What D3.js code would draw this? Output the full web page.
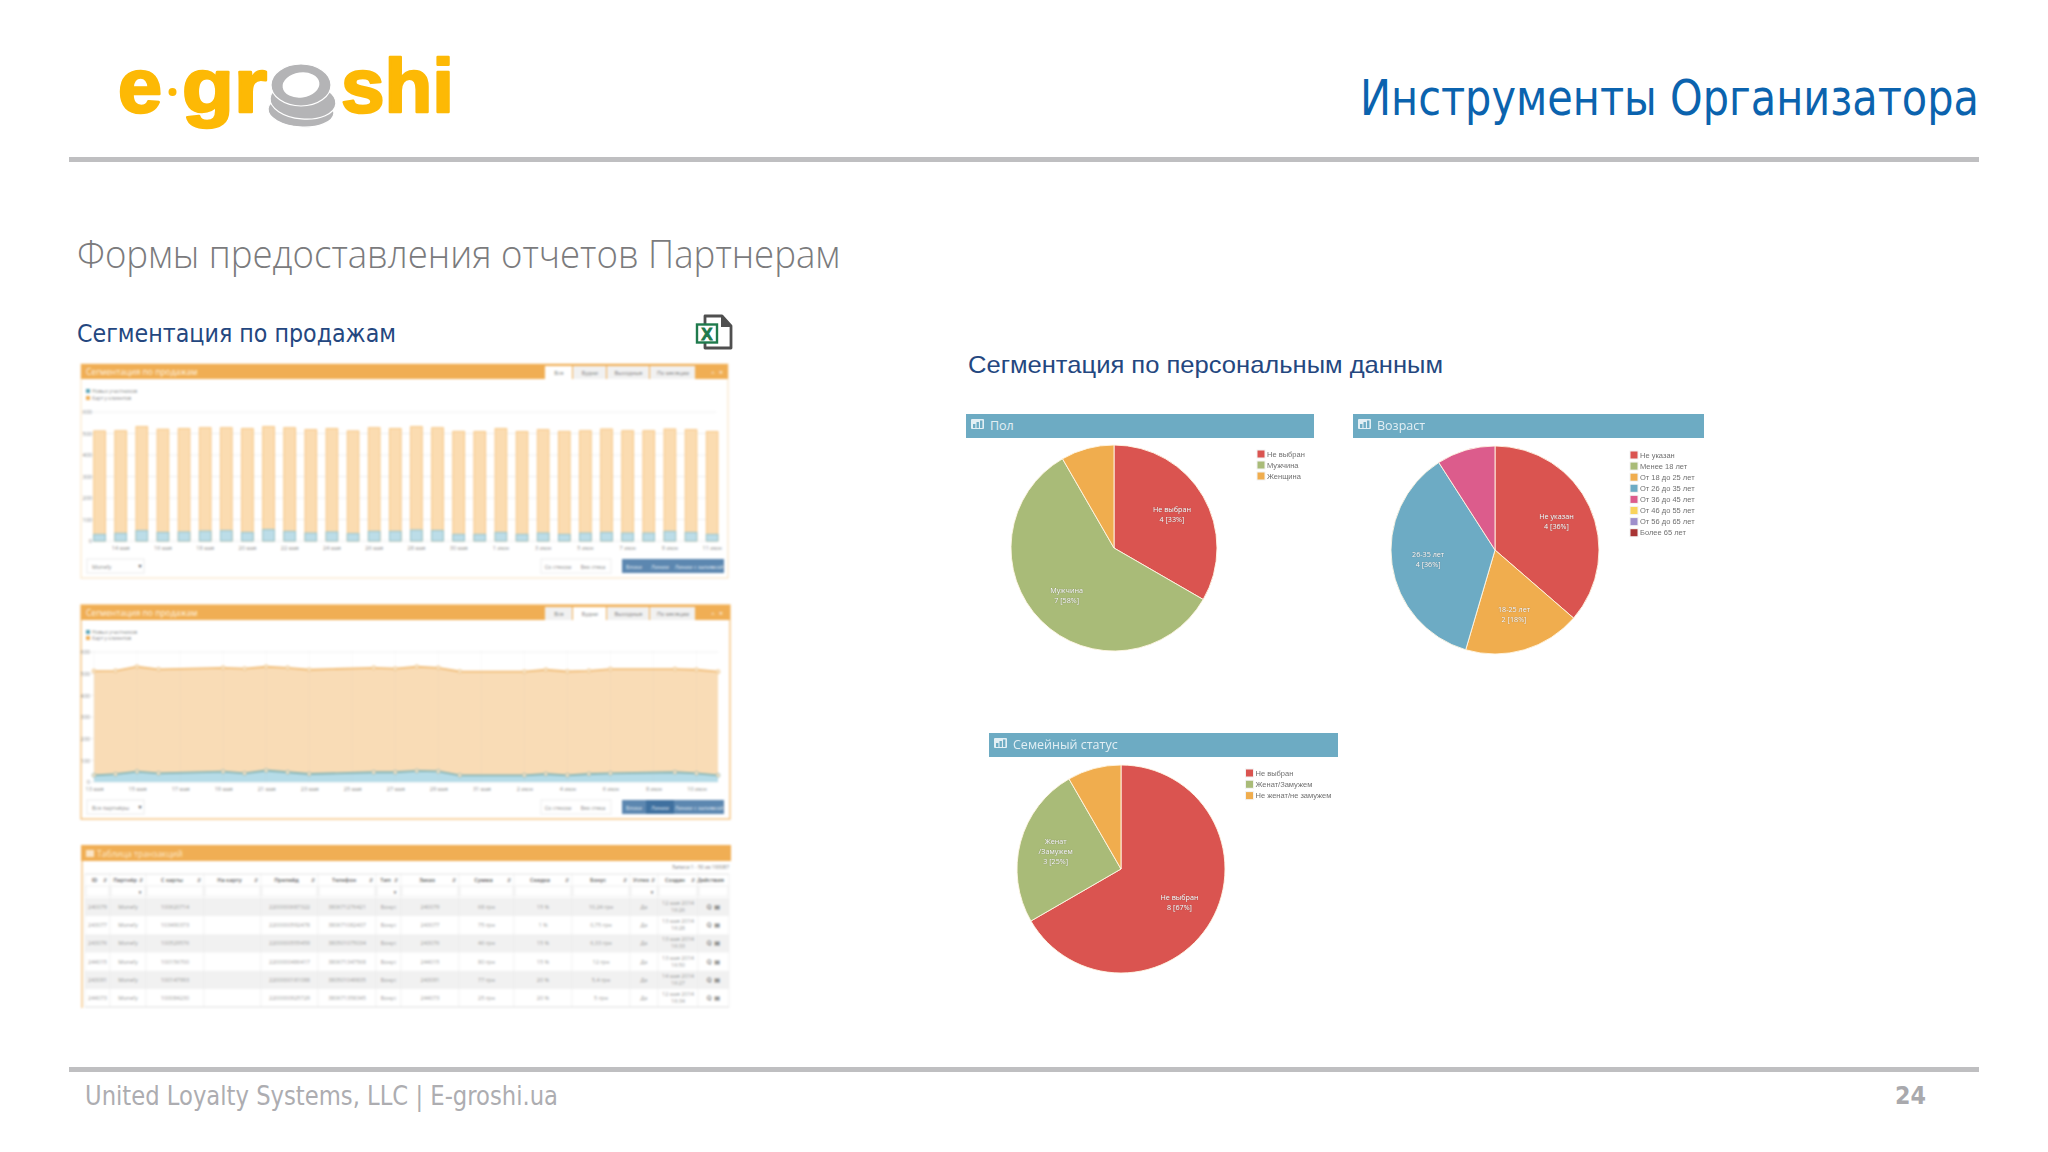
<!DOCTYPE html>
<html>
<head>
<meta charset="utf-8">
<title>Инструменты Организатора</title>
<script src="https://cdnjs.cloudflare.com/ajax/libs/d3/7.8.5/d3.min.js"></script>
<style>
    html, body { margin: 0; padding: 0; background: #fff; }
    svg { display: block; }
    .shot { filter: blur(0.8px); }
    .pies { filter: blur(0.4px); }
    .axis path, .axis line { display: none; }
    .axis text { fill: #8a8a8a; font-family: "Open Sans", sans-serif; font-size: 5.5px; }
</style>
</head>
<body>
<div id="chart"></div>
<script>
// daily sales
var dayLabels = ["13 мая", "14 мая", "15 мая", "16 мая", "17 мая", "18 мая", "19 мая", "20 мая", "21 мая", "22 мая",
    "23 мая", "24 мая", "25 мая", "26 мая", "27 мая", "28 мая", "29 мая", "30 мая", "31 мая", "1 июн",
    "2 июн", "3 июн", "4 июн", "5 июн", "6 июн", "7 июн", "8 июн", "9 июн", "10 июн", "11 июн"];
var newUsers = [31, 36, 48, 40, 42, 46, 48, 40, 53, 45, 37, 42, 34, 45, 45, 51, 49, 31, 31, 40, 31, 37, 31, 37, 40, 37, 37, 45, 40, 31];
var totals = [512, 513, 532, 520, 523, 527, 527, 523, 532, 527, 518, 523, 512, 527, 523, 532, 527, 510, 509, 523, 509, 518, 510, 513, 521, 513, 513, 521, 518, 509];
var weekdayLabels = ["13 мая", "14 мая", "15 мая", "16 мая", "19 мая", "20 мая", "21 мая", "22 мая", "23 мая", "26 мая", "27 мая",
    "28 мая", "29 мая", "30 мая", "2 июн", "3 июн", "4 июн", "5 июн", "6 июн", "9 июн", "10 июн", "11 июн"];
var barTickLabels = ["14 мая", "16 мая", "18 мая", "20 мая", "22 мая", "24 мая", "26 мая", "28 мая", "30 мая", "1 июн", "3 июн", "5 июн", "7 июн", "9 июн", "11 июн"];
var areaTickLabels = ["13 мая", "15 мая", "17 мая", "19 мая", "21 мая", "23 мая", "25 мая", "27 мая", "29 мая", "31 мая", "2 июн", "4 июн", "6 июн", "8 июн", "10 июн"];
var yTicks = [0, 100, 200, 300, 400, 500, 600];
var salesLegend = ["Новых участников", "Карт у клиентов"];
var tabNames = ["Все", "Будни", "Выходные", "По месяцам"];

// transactions table
var tableColumns = ["ID", "Партнёр", "С карты", "На карту", "Препейд", "Телефон", "Тип", "Заказ", "Сумма", "Скидка", "Бонус", "Успех", "Создан", "Действия"];
var tableRows = [
    ["240079", "Monefy", "100620714", "", "2200000687322", "380671276421", "Бонус", "240079", "68 грн", "15 %", "10,24 грн", "Да", "12 мая 2014|16:26"],
    ["243077", "Monefy", "103490373", "", "2200000592478", "380671082437", "Бонус", "243077", "75 грн", "1 %", "0,75 грн", "Да", "13 мая 2014|16:28"],
    ["243076", "Monefy", "100529576", "", "2200000555459", "380501075034", "Бонус", "243076", "46 грн", "15 %", "6,33 грн", "Да", "13 мая 2014|16:33"],
    ["244015", "Monefy", "100156700", "", "2200000486417", "380671347568", "Бонус", "244015", "80 грн", "15 %", "12 грн", "Да", "13 мая 2014|16:50"],
    ["243091", "Monefy", "100147993", "", "2200000181088", "380501049835", "Бонус", "243091", "77 грн", "20 %", "5,4 грн", "Да", "14 мая 2014|16:27"],
    ["244073", "Monefy", "100084230", "", "2200000925729", "380671358345", "Бонус", "244073", "25 грн", "20 %", "5 грн", "Да", "12 мая 2014|16:34"]
];
var tableFilterColumns = [1, 6, 11];

// pies
var genderNames = ["Не выбран", "Мужчина", "Женщина"];
var genderValues = [4, 7, 1];
var genderLabels = [["Не выбран"], ["Мужчина"], null];
var ageNames = ["Не указан", "Менее 18 лет", "От 18 до 25 лет", "От 26 до 35 лет", "От 36 до 45 лет", "От 46 до 55 лет", "От 56 до 65 лет", "Более 65 лет"];
var ageValues = [4, 0, 2, 4, 1, 0, 0, 0];
var ageLabels = [["Не указан"], null, ["18-25 лет"], ["26-35 лет"], null, null, null, null];
var familyNames = ["Не выбран", "Женат/Замужем", "Не женат/не замужем"];
var familyValues = [8, 3, 1];
var familyLabels = [["Не выбран"], ["Женат", "/Замужем"], null];
var pieColors = ["#da5450", "#a9bb78", "#f0ad4e", "#6dabc4", "#dc5c8c", "#f9d35c", "#9e8fcb", "#a83434"];

var ORANGE = "#f0ae54";
var TEAL = "#6dabc3";
var UI_FONT = '"Open Sans", sans-serif';
var TITLE_FONT = '"DejaVu Sans Condensed", "DejaVu Sans", sans-serif';
var SANS_FONT = '"Liberation Sans", sans-serif';

var svg = d3.select("#chart").append("svg").attr("width", 2048).attr("height", 1152);
svg.append("rect").attr("width", 2048).attr("height", 1152).attr("fill", "#fff");

function addText(parent, x, y, str, size, color, font, anchor, fitWidth) {
    var t = parent.append("text")
        .attr("x", x).attr("y", y)
        .attr("font-size", size)
        .attr("font-family", font || UI_FONT)
        .attr("fill", color)
        .attr("text-anchor", anchor || "start")
        .text(str);
    if (fitWidth) {
        t.attr("textLength", fitWidth).attr("lengthAdjust", "spacingAndGlyphs");
    }
    return t;
}

function drawSlideFrame() {
    svg.append("rect").attr("x", 69).attr("y", 157).attr("width", 1910).attr("height", 5).attr("fill", "#bfbfc1");
    svg.append("rect").attr("x", 69).attr("y", 1067).attr("width", 1910).attr("height", 5).attr("fill", "#bfbfc1");

    addText(svg, 1979, 115, "Инструменты Организатора", 49, "#0b63ae", TITLE_FONT, "end", 619);
    addText(svg, 77, 268, "Формы предоставления отчетов Партнерам", 39, "#7b7b7d", UI_FONT, "start", 763).attr("font-weight", 300);
    addText(svg, 77, 342, "Сегментация по продажам", 24, "#24477f", TITLE_FONT, "start", 319);
    addText(svg, 968, 373, "Сегментация по персональным данным", 24, "#24477f", SANS_FONT, "start", 475);
    addText(svg, 85, 1105, "United Loyalty Systems, LLC | E-groshi.ua", 26, "#adadb1", TITLE_FONT, "start", 473);
    addText(svg, 1895, 1104, "24", 24, "#a9a9ad", '"DejaVu Sans", sans-serif', "start", 31).attr("font-weight", "bold");
}

function drawLogo() {
    var logo = svg.append("g");
    var yellow = "#fdb905";
    var logoWord = function (x, str, width) {
        addText(logo, x, 112, str, 76, yellow, SANS_FONT, "start", width)
            .attr("font-weight", "bold").attr("stroke", yellow).attr("stroke-width", 2.5).attr("stroke-linejoin", "round");
    };
    logoWord(118, "e", 44);
    logo.append("circle").attr("cx", 172.5).attr("cy", 92).attr("r", 4).attr("fill", yellow);
    logoWord(182, "gr", 85);
    logoWord(341, "shi", 113);

    // coin stack, drawn bottom up
    var coins = logo.append("g").attr("fill", "#b4b4b6").attr("stroke", "#fff").attr("stroke-width", 1.2);
    coins.append("ellipse").attr("cx", 301).attr("cy", 111).attr("rx", 33).attr("ry", 16).attr("transform", "rotate(4 301 111)");
    coins.append("ellipse").attr("cx", 303).attr("cy", 101).attr("rx", 33).attr("ry", 18).attr("transform", "rotate(5 303 101)");
    coins.append("ellipse").attr("cx", 301).attr("cy", 85).attr("rx", 30).attr("ry", 21);
    coins.append("ellipse").attr("cx", 301).attr("cy", 85).attr("rx", 18.5).attr("ry", 12.5)
        .attr("fill", "#fff").attr("stroke", "none").attr("transform", "rotate(-8 301 85)");
}

function drawExcelIcon() {
    var icon = svg.append("g");
    icon.append("path")
        .attr("d", "M705 316 H722 L731 326 V348 H705 Z")
        .attr("fill", "#fff").attr("stroke", "#4f4f4f").attr("stroke-width", 2.8).attr("stroke-linejoin", "round");
    icon.append("path").attr("d", "M721 316 L721 327 L731 327 Z").attr("fill", "#4f4f4f");
    icon.append("rect").attr("x", 697).attr("y", 324.5).attr("width", 20).attr("height", 18)
        .attr("fill", "#fff").attr("stroke", "#1f7a4c").attr("stroke-width", 2.4);
    addText(icon, 707, 339.5, "X", 17, "#1f7a4c", SANS_FONT, "middle")
        .attr("font-weight", "bold").attr("stroke", "#1f7a4c").attr("stroke-width", 0.8);
}

function drawPanelChrome(g, top, bottom, right, title, activeTab, selectText, activeButton) {
    g.append("rect").attr("x", 81).attr("y", top).attr("width", right - 81).attr("height", bottom - top)
        .attr("fill", "#fff").attr("stroke", "#fbe6c8").attr("stroke-width", 1.2);
    g.append("rect").attr("x", 81).attr("y", top).attr("width", right - 81).attr("height", 15).attr("fill", ORANGE);
    addText(g, 86, top + 11, title, 8.5, "#fff5e3");

    var tabEdges = [545, 573, 607, 650, 696];
    tabNames.forEach(function (name, i) {
        g.append("rect").attr("x", tabEdges[i]).attr("y", top + 2).attr("width", tabEdges[i + 1] - tabEdges[i] - 1).attr("height", 13)
            .attr("fill", i === activeTab ? "#fff" : "#f1f1f1");
        addText(g, (tabEdges[i] + tabEdges[i + 1]) / 2, top + 10.5, name, 5.5, "#777", UI_FONT, "middle");
    });
    addText(g, 713, top + 10.5, "^", 6, "#fff", UI_FONT, "middle");
    addText(g, 721, top + 10.5, "×", 7, "#fff", UI_FONT, "middle");

    // controls row
    var rowY = bottom - 19;
    g.append("rect").attr("x", 87).attr("y", rowY).attr("width", 57).attr("height", 14).attr("fill", "#fff").attr("stroke", "#ececec");
    addText(g, 92, rowY + 9.5, selectText, 5.5, "#888");
    addText(g, 140, rowY + 9, "▾", 6, "#555", '"DejaVu Sans", sans-serif', "middle");
    g.append("rect").attr("x", 541).attr("y", rowY).attr("width", 70).attr("height", 14).attr("fill", "#fff").attr("stroke", "#eeeeee");
    addText(g, 558, rowY + 9.5, "Со стеком", 5.5, "#888", UI_FONT, "middle");
    addText(g, 593, rowY + 9.5, "Без стека", 5.5, "#888", UI_FONT, "middle");

    var buttonEdges = [622, 646, 674, 724];
    var buttonNames = ["Блоки", "Линии", "Линии с заливкой"];
    buttonNames.forEach(function (name, i) {
        g.append("rect").attr("x", buttonEdges[i]).attr("y", rowY).attr("width", buttonEdges[i + 1] - buttonEdges[i]).attr("height", 14)
            .attr("fill", i === activeButton ? "#3f709f" : "#5c87b0");
        addText(g, (buttonEdges[i] + buttonEdges[i + 1]) / 2, rowY + 9.5, name, 5.5, "#e6eef5", UI_FONT, "middle");
    });
}

function drawSalesLegend(g, y1, y2) {
    [y1, y2].forEach(function (y, i) {
        g.append("rect").attr("x", 86).attr("y", y - 2).attr("width", 4).attr("height", 4).attr("fill", i === 0 ? "#5fa6b8" : ORANGE);
        addText(g, 92, y + 2, salesLegend[i], 5, "#888");
    });
}

function drawGrid(g, y, x0, x1) {
    g.selectAll(".grid").data(yTicks).enter().append("line")
        .attr("class", "grid")
        .attr("x1", x0).attr("x2", x1)
        .attr("y1", function (d) { return y(d); })
        .attr("y2", function (d) { return y(d); })
        .attr("stroke", "#f0f0f0");
}

function drawBarPanel(g) {
    drawPanelChrome(g, 364, 578, 728, "Сегментация по продажам", 0, "Monefy", -1);
    drawSalesLegend(g, 391, 398);

    var x = d3.scaleBand().domain(dayLabels).range([89, 722.7]).paddingInner(0.45).paddingOuter(0.225);
    var y = d3.scaleLinear().domain([0, 600]).range([541, 412]);
    drawGrid(g, y, 90, 716);

    g.append("g").attr("class", "axis").attr("transform", "translate(0,541)")
        .call(d3.axisBottom(x).tickValues(barTickLabels).tickSize(0).tickPadding(5));
    g.append("g").attr("class", "axis").attr("transform", "translate(94,0)")
        .call(d3.axisLeft(y).tickValues(yTicks).tickSize(0).tickPadding(2));

    g.selectAll(".total").data(dayLabels).enter().append("rect")
        .attr("x", function (d) { return x(d); })
        .attr("width", x.bandwidth())
        .attr("y", function (d, i) { return y(totals[i]); })
        .attr("height", function (d, i) { return y(0) - y(totals[i]); })
        .attr("fill", "#fbdcb1")
        .attr("stroke", "#f6c27c").attr("stroke-width", 0.9);
    g.selectAll(".new").data(dayLabels).enter().append("rect")
        .attr("x", function (d) { return x(d); })
        .attr("width", x.bandwidth())
        .attr("y", function (d, i) { return y(newUsers[i]); })
        .attr("height", function (d, i) { return y(0) - y(newUsers[i]); })
        .attr("fill", "#bcdde8")
        .attr("stroke", "#8fc0cc").attr("stroke-width", 0.9);
}

function drawAreaPanel(g) {
    drawPanelChrome(g, 605, 819, 730, "Сегментация по продажам", 1, "Все партнёры", 1);
    g.select("rect").attr("stroke", "#f3b866");
    drawSalesLegend(g, 632, 638);

    var x = d3.scalePoint().domain(dayLabels).range([94, 718]);
    var y = d3.scaleLinear().domain([0, 600]).range([782, 652]);
    var days = weekdayLabels.map(function (name) {
        var i = dayLabels.indexOf(name);
        return { name: name, total: totals[i], fresh: newUsers[i] };
    });

    var areaOf = function (key) {
        return d3.area().x(function (d) { return x(d.name); }).y0(y(0)).y1(function (d) { return y(d[key]); });
    };
    var lineOf = function (key) {
        return d3.line().x(function (d) { return x(d.name); }).y(function (d) { return y(d[key]); });
    };

    drawGrid(g, y, 90, 718);
    g.append("path").datum(days).attr("d", areaOf("total")).attr("fill", "#f9dcb6");
    g.append("path").datum(days).attr("d", areaOf("fresh")).attr("fill", "#b6dce8");
    g.selectAll(".vgrid").data(areaTickLabels).enter().append("line")
        .attr("class", "vgrid")
        .attr("x1", function (d) { return x(d); }).attr("x2", function (d) { return x(d); })
        .attr("y1", 652).attr("y2", 782)
        .attr("stroke", "#bdbdbd").attr("stroke-opacity", 0.08);
    g.append("path").datum(days).attr("d", lineOf("total")).attr("fill", "none").attr("stroke", "#f1bd78").attr("stroke-width", 1.8);
    g.append("path").datum(days).attr("d", lineOf("fresh")).attr("fill", "none").attr("stroke", "#86b4b4").attr("stroke-width", 1.8);

    ["total", "fresh"].forEach(function (key) {
        g.selectAll(".dot-" + key).data(days).enter().append("circle")
            .attr("cx", function (d) { return x(d.name); })
            .attr("cy", function (d) { return y(d[key]); })
            .attr("r", 2)
            .attr("fill", "#f7e3c4")
            .attr("stroke", key === "total" ? "#efc183" : "#92b5b0").attr("stroke-width", 0.7);
    });

    g.append("g").attr("class", "axis").attr("transform", "translate(0,782)")
        .call(d3.axisBottom(x).tickValues(areaTickLabels).tickSize(0).tickPadding(5));
    g.append("g").attr("class", "axis").attr("transform", "translate(91,0)")
        .call(d3.axisLeft(y).tickValues(yTicks).tickSize(0).tickPadding(1));
}

function drawTable(g) {
    var edges = [85, 110, 146, 204, 261, 318, 376, 401, 459, 514, 572, 630, 658, 698, 729];
    var headY = 874, filterY = 885, rowsY = 898, rowH = 18.2;

    g.append("rect").attr("x", 81).attr("y", 845).attr("width", 650).attr("height", 165).attr("fill", "#fff");
    g.append("rect").attr("x", 81).attr("y", 845).attr("width", 2).attr("height", 163).attr("fill", "#f8d5a5");
    g.append("rect").attr("x", 81).attr("y", 845).attr("width", 650).attr("height", 16).attr("fill", ORANGE);
    g.append("rect").attr("x", 86).attr("y", 850).attr("width", 8).attr("height", 7).attr("fill", "#fbe6c8");
    addText(g, 97, 857, "Таблица транзакций", 8.5, "#fde9cb");
    addText(g, 729, 869, "Записи 1 - 50 из 193087", 5, "#777", UI_FONT, "end");

    tableColumns.forEach(function (name, i) {
        addText(g, (edges[i] + edges[i + 1]) / 2 - 3, headY + 7.5, name, 5.5, "#555", UI_FONT, "middle").attr("font-weight", 600);
        if (i < 13) {
            addText(g, edges[i + 1] - 5, headY + 7.5, "⇵", 5, "#666", '"DejaVu Sans", sans-serif', "middle");
        }
        g.append("rect").attr("x", edges[i] + 1).attr("y", filterY + 1).attr("width", edges[i + 1] - edges[i] - 2).attr("height", 10)
            .attr("fill", "#fff").attr("stroke", "#f0f0f0");
        if (tableFilterColumns.indexOf(i) >= 0) {
            addText(g, edges[i + 1] - 6, filterY + 9, "▾", 5, "#555", '"DejaVu Sans", sans-serif', "middle");
        }
    });

    tableRows.forEach(function (row, r) {
        var top = rowsY + r * rowH;
        g.append("rect").attr("x", edges[0]).attr("y", top).attr("width", 644).attr("height", rowH)
            .attr("fill", r % 2 === 0 ? "#f1f1f1" : "#fff");
        row.forEach(function (cell, c) {
            var mid = (edges[c] + edges[c + 1]) / 2;
            var parts = cell.split("|");
            parts.forEach(function (part, p) {
                var off = parts.length > 1 ? 7 + p * 7 : 11;
                addText(g, mid, top + off, part, 5.5, "#999", UI_FONT, "middle");
            });
        });
        ["Q", "▤"].forEach(function (glyph, i) {
            addText(g, 709 + i * 8, top + 11, glyph, 6, "#444", '"DejaVu Sans", sans-serif', "middle");
        });
    });

    edges.forEach(function (e) {
        g.append("line").attr("x1", e).attr("x2", e).attr("y1", headY).attr("y2", 1007).attr("stroke", "#eaeaea").attr("stroke-width", 0.7);
    });
    g.append("line").attr("x1", 85).attr("x2", 729).attr("y1", headY).attr("y2", headY).attr("stroke", "#e4e4e4");
    g.append("line").attr("x1", 85).attr("x2", 729).attr("y1", 1007).attr("y2", 1007).attr("stroke", "#dddddd");
}

function drawPiePanel(g, opts) {
    g.append("rect").attr("x", opts.left).attr("y", opts.top).attr("width", opts.right - opts.left).attr("height", 24).attr("fill", TEAL);

    var icon = g.append("g").attr("transform", "translate(" + (opts.left + 5) + "," + (opts.top + 5) + ")");
    icon.append("rect").attr("width", 13).attr("height", 10).attr("rx", 1).attr("fill", "#e3eff4");
    [[2, 5, 4], [5.5, 3, 6], [9, 1.5, 7.5]].forEach(function (b) {
        icon.append("rect").attr("x", b[0]).attr("y", b[1]).attr("width", 2.4).attr("height", b[2]).attr("fill", TEAL);
    });
    addText(g, opts.left + 24, opts.top + 15.5, opts.title, 12.5, "#e3eff4");

    var total = d3.sum(opts.values);
    var pie = d3.pie().sort(null).value(function (d) { return d; });
    var arc = d3.arc().innerRadius(0).outerRadius(opts.r);
    var labelArc = d3.arc().innerRadius(opts.r * 0.65).outerRadius(opts.r * 0.65);
    var root = g.append("g").attr("transform", "translate(" + opts.cx + "," + opts.cy + ")");
    var arcs = pie(opts.values).filter(function (d) { return d.value > 0; });

    root.selectAll("path").data(arcs).enter().append("path")
        .attr("d", arc)
        .attr("fill", function (d) { return pieColors[d.index]; })
        .attr("stroke", "#fff6e4").attr("stroke-width", 0.9);

    arcs.forEach(function (d) {
        var names = opts.labels[d.index];
        if (!names) {
            return;
        }
        var c = labelArc.centroid(d);
        var lines = names.concat([d.value + " [" + Math.round(d.value / total * 100) + "%]"]);
        lines.forEach(function (str, i) {
            addText(root, c[0], c[1] + (i - (lines.length - 1) / 2) * 10 + 2.5, str, 7.2, "#fff", UI_FONT, "middle")
                .style("text-shadow", "0 0 1px rgba(70,70,70,.7)");
        });
    });

    opts.names.forEach(function (name, i) {
        var y = opts.legendY + i * opts.legendStep;
        g.append("rect").attr("x", opts.legendX - 1).attr("y", y - 4.5).attr("width", 9).attr("height", 9).attr("fill", "#f2f2f2");
        g.append("rect").attr("x", opts.legendX).attr("y", y - 3.5).attr("width", 7).attr("height", 7).attr("fill", pieColors[i]);
        addText(g, opts.legendX + 9.5, y + 2.6, name, 7.5, "#707070", SANS_FONT);
    });
}

drawSlideFrame();
drawLogo();
drawExcelIcon();

var shots = svg.append("g").attr("class", "shot");
drawBarPanel(shots.append("g"));
drawAreaPanel(shots.append("g"));
drawTable(shots.append("g"));

var pies = svg.append("g").attr("class", "pies");
drawPiePanel(pies.append("g"), { title: "Пол", left: 966, right: 1314, top: 414, cx: 1114, cy: 548, r: 103,
    values: genderValues, names: genderNames, labels: genderLabels, legendX: 1257.5, legendY: 454, legendStep: 11 });
drawPiePanel(pies.append("g"), { title: "Возраст", left: 1353, right: 1704, top: 414, cx: 1495, cy: 550, r: 104,
    values: ageValues, names: ageNames, labels: ageLabels, legendX: 1630.5, legendY: 455, legendStep: 11.1 });
drawPiePanel(pies.append("g"), { title: "Семейный статус", left: 989, right: 1338, top: 733, cx: 1121, cy: 869, r: 104,
    values: familyValues, names: familyNames, labels: familyLabels, legendX: 1246, legendY: 773, legendStep: 11.3 });
</script>
</body>
</html>
